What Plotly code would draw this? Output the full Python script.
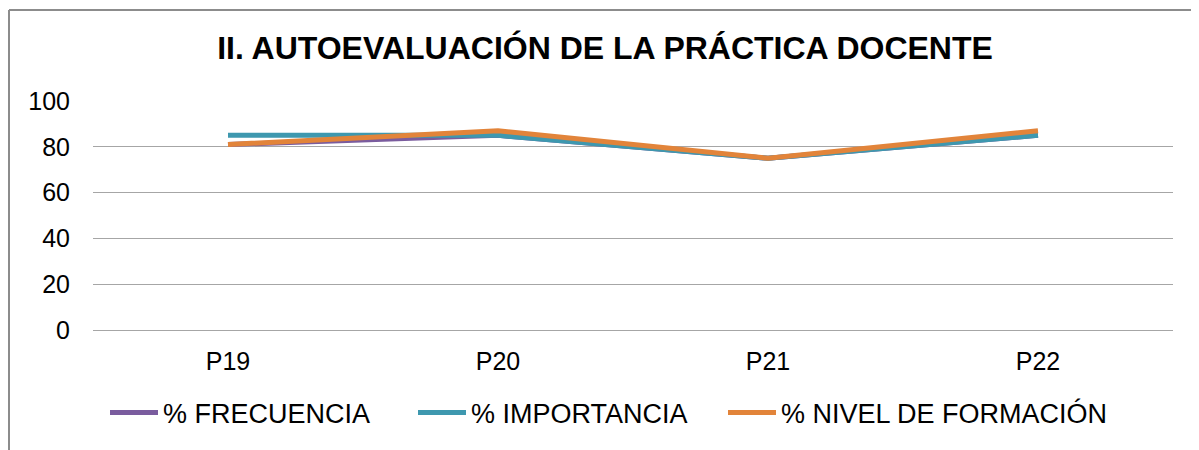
import plotly.graph_objects as go

categories = ["P19", "P20", "P21", "P22"]
frecuencia = [81, 85, 75, 85]
importancia = [85, 85, 75, 85]
nivel_formacion = [81, 87, 75, 87]
y_ticks = [0, 20, 40, 60, 80, 100]

series = [
    ("% FRECUENCIA", frecuencia, "#7A5C9E", "legend"),
    ("% IMPORTANCIA", importancia, "#3E98AF", "legend2"),
    ("% NIVEL DE FORMACIÓN", nivel_formacion, "#E2843A", "legend3"),
]

fig = go.Figure()
for name, vals, color, lg in series:
    fig.add_trace(go.Scatter(
        x=categories, y=vals, name=name, mode="lines",
        line=dict(color=color, width=5), legend=lg,
    ))

# page body has an 8px margin; figure sized so it fits the 1199x450 window
OFF = 8
W, H = 1199 - OFF, 450 - OFF
L, T = 93 - OFF, 101 - OFF
pw, ph = 1080, 229
R = W - L - pw
B = H - T - ph

def py(abs_y):
    return (330 - abs_y) / ph

def px(abs_x):
    return (abs_x - 93) / pw

def legend_at(abs_x):
    return dict(
        orientation="h", x=px(abs_x), xanchor="left",
        y=py(413), yanchor="middle",
        font=dict(size=27), itemwidth=48, bgcolor="rgba(0,0,0,0)",
    )

fig.update_layout(
    width=W, height=H,
    margin=dict(l=L, r=R, t=T, b=B, autoexpand=False),
    paper_bgcolor="white", plot_bgcolor="white",
    font=dict(family="Liberation Sans, Arial, sans-serif", color="#000000", size=25),
    title=dict(
        text="<b>II. AUTOEVALUACIÓN DE LA PRÁCTICA DOCENTE</b>",
        x=(605 - OFF) / W, xanchor="center", y=1 - (48 - OFF) / H, yanchor="middle",
        font=dict(size=32, color="#000000"),
    ),
    showlegend=True,
    legend=legend_at(105),
    legend2=legend_at(413),
    legend3=legend_at(723),
    xaxis=dict(
        type="category", range=[-0.5, 3.5], showgrid=False, zeroline=False,
        showline=False, ticks="", ticklabelstandoff=14,
        tickfont=dict(size=25),
    ),
    yaxis=dict(
        range=[0, 100], tickvals=y_ticks, showgrid=True, gridcolor="#A6A6A6",
        gridwidth=1, zeroline=True, zerolinecolor="#A6A6A6", zerolinewidth=1,
        showline=False, ticks="", ticklabelstandoff=22,
        tickfont=dict(size=25),
    ),
    shapes=[
        dict(type="line", xref="paper", yref="paper",
             x0=px(9), x1=px(9), y0=py(10), y1=-1.0,
             line=dict(color="#8C8C8C", width=2)),
        dict(type="line", xref="paper", yref="paper",
             x0=px(9), x1=1.2, y0=py(10), y1=py(10),
             line=dict(color="#8C8C8C", width=2)),
    ],
)

fig.write_html("out.html")
